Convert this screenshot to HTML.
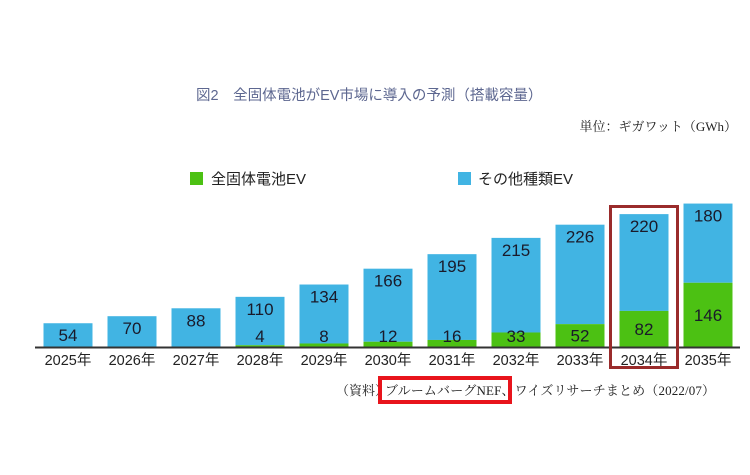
<!DOCTYPE html>
<html><head><meta charset="utf-8">
<style>
body{margin:0;background:#fff;width:750px;height:470px;overflow:hidden;font-family:"Liberation Sans","Noto Sans CJK JP",sans-serif;}
svg text{font-family:"Liberation Sans","Noto Sans CJK JP",sans-serif;}
svg text.serif{font-family:"Liberation Serif","Noto Serif CJK SC",serif;}
</style></head>
<body>
<svg width="750" height="470">
<text x="196" y="100" font-size="14.5" fill="#5d6790">図2　全固体電池がEV市場に導入の予測（搭載容量）</text>
<text x="737" y="131" font-size="13" fill="#222" text-anchor="end" class="serif">単位：ギガワット（GWh）</text>
<rect x="190" y="172" width="13" height="13" fill="#4cc113"/>
<text x="211" y="184" font-size="15" fill="#222">全固体電池EV</text>
<rect x="458" y="172" width="13" height="13" fill="#41b4e3"/>
<text x="478" y="184" font-size="15" fill="#222">その他種類EV</text>
<g id="bars"></g>
<line x1="35" y1="347.5" x2="740" y2="347.5" stroke="#333" stroke-width="2"/>
<rect x="610.5" y="206.5" width="67" height="161" fill="none" stroke="#9a2b2b" stroke-width="3"/>
<text x="336" y="395" font-size="13" fill="#222" class="serif">（資料）</text>
<rect x="380" y="378" width="130" height="24" fill="none" stroke="#e8141c" stroke-width="4"/>
<text x="385" y="395" font-size="13" fill="#222" class="serif" textLength="330">ブルームバーグNEF、ワイズリサーチまとめ（2022/07）</text>
</svg>
<script>
const years=["2025年","2026年","2027年","2028年","2029年","2030年","2031年","2032年","2033年","2034年","2035年"];
const solid=[0,0,0,4,8,12,16,33,52,82,146];
const other=[54,70,88,110,134,166,195,215,226,220,180];
const base=347, k=0.44, bw=49;
function xc(i){return 68+i*64;}
function y(v){return base-v*k;}
const g=document.getElementById('bars');
const NS='http://www.w3.org/2000/svg';
function mk(t,a){const e=document.createElementNS(NS,t);for(const n in a)e.setAttribute(n,a[n]);g.appendChild(e);return e;}
years.forEach((yr,i)=>{
  const x=xc(i)-bw/2, s=solid[i], o=other[i];
  const b=mk('rect',{x:x,y:y(s+o),width:bw,height:o*k,fill:'#41b4e3'});
  
  
  if(s>0){
    const r=mk('rect',{x:x,y:y(s),width:bw,height:s*k,fill:'#4cc113'});
    
    
  }
  if(s>0){
    const ly=Math.min((y(s)+base)/2,336);
    const t=mk('text',{x:xc(i),y:ly+6,'font-size':17,fill:'#1a1a2a','text-anchor':'middle'});
    t.textContent=s;
    
    
  }
  const top=y(s+o), segc=(top+y(s))/2;
  let oy=Math.min(top+12,segc);
  if(s===0) oy=Math.min(top+12,(top+base)/2);
  const t2=mk('text',{x:xc(i),y:oy+6,'font-size':17,fill:'#1a1a2a','text-anchor':'middle'});
  t2.textContent=o;
  
  
  const t3=mk('text',{x:xc(i),y:365,'font-size':14.5,fill:'#222','text-anchor':'middle'});
  t3.textContent=yr;
  
  
});
</script>
</body></html>
